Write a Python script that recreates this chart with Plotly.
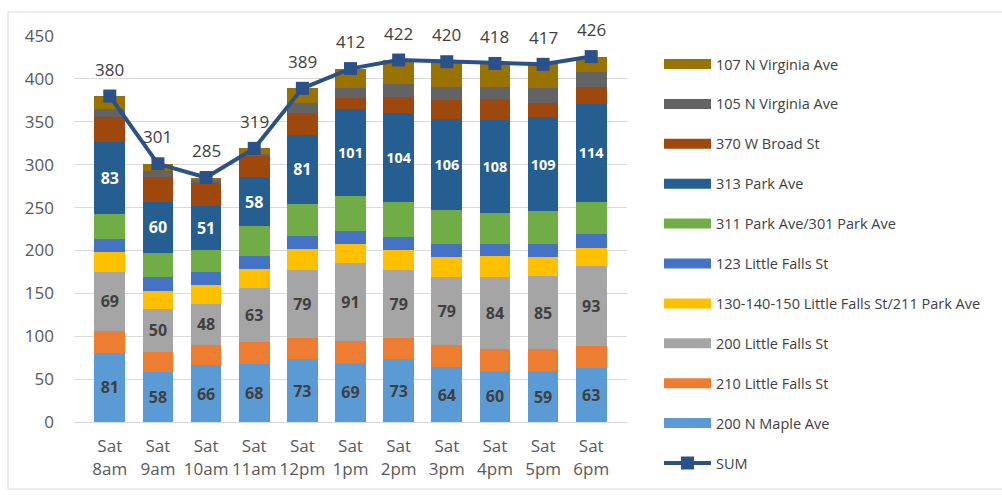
import plotly.graph_objects as go

# ── Data ─────────────────────────────────────────────────────────────────────

HOURS = ["Sat<br>8am", "Sat<br>9am", "Sat<br>10am", "Sat<br>11am", "Sat<br>12pm", "Sat<br>1pm",
         "Sat<br>2pm", "Sat<br>3pm", "Sat<br>4pm", "Sat<br>5pm", "Sat<br>6pm"]

N_MAPLE_200 = [81, 58, 66, 68, 73, 69, 73, 64, 60, 59, 63]
LITTLE_FALLS_210 = [25, 24, 24, 25, 25, 25, 25, 26, 25, 26, 26]
LITTLE_FALLS_200 = [69, 50, 48, 63, 79, 91, 79, 79, 84, 85, 93]
LITTLE_FALLS_130 = [23, 21, 22, 22, 25, 23, 24, 23, 24, 22, 21]
LITTLE_FALLS_123 = [15, 16, 15, 15, 15, 15, 15, 16, 15, 15, 16]
PARK_311 = [30, 28, 26, 35, 37, 41, 40, 39, 36, 39, 38]
PARK_313 = [83, 60, 51, 58, 81, 101, 104, 106, 108, 109, 114]
W_BROAD_370 = [29, 29, 27, 24, 25, 13, 19, 22, 24, 17, 19]
N_VIRGINIA_105 = [10, 7, 3, 3, 12, 11, 15, 16, 14, 17, 18]
N_VIRGINIA_107 = [15, 8, 3, 6, 17, 23, 28, 29, 28, 28, 18]
SUM = [380, 301, 285, 319, 389, 412, 422, 420, 418, 417, 426]

# (name, values, colour, label colour or None) — bottom of the stack first
SERIES = [
    ("200 N Maple Ave", N_MAPLE_200, "#5B9BD5", "#404040"),
    ("210 Little Falls St", LITTLE_FALLS_210, "#ED7D31", None),
    ("200 Little Falls St", LITTLE_FALLS_200, "#A5A5A5", "#404040"),
    ("130-140-150 Little Falls St/211 Park Ave", LITTLE_FALLS_130, "#FFC000", None),
    ("123 Little Falls St", LITTLE_FALLS_123, "#4472C4", None),
    ("311 Park Ave/301 Park Ave", PARK_311, "#70AD47", None),
    ("313 Park Ave", PARK_313, "#255E91", "white"),
    ("370 W Broad St", W_BROAD_370, "#9E480E", None),
    ("105 N Virginia Ave", N_VIRGINIA_105, "#636363", None),
    ("107 N Virginia Ave", N_VIRGINIA_107, "#997300", None),
]
SUM_COLOR = "#2A5189"

# ── Layout helpers (pixel → paper) ───────────────────────────────────────────

W, H = 1002, 495
L, R, T, B = 74, 375, 36, 73
PW, PH = W - L - R, H - T - B


def px(x):
    return (x - L) / PW


def py(y):
    return (H - B - y) / PH


FONT = "Open Sans, sans-serif"

fig = go.Figure()

for name, vals, color, label_color in SERIES:
    fig.add_trace(go.Bar(
        x=HOURS, y=vals, name=name,
        marker=dict(color=color, line=dict(width=0)),
        text=vals if label_color else None,
        textposition="inside" if label_color else "none",
        insidetextanchor="middle",
        textangle=0,
        textfont=dict(family=FONT, size=16, color=label_color or "white", weight="bold"),
        showlegend=False,
        hoverinfo="skip",
    ))

fig.add_trace(go.Scatter(
    x=HOURS, y=SUM, name="SUM",
    mode="lines+markers",
    line=dict(color=SUM_COLOR, width=4),
    marker=dict(symbol="square", size=13, color=SUM_COLOR),
    cliponaxis=False,
    showlegend=False,
))

# ── Legend drawn by hand to match the wide Excel swatches ───────────────────

shapes = []
annotations = []

# SUM value labels above the line points
for hour, total in zip(HOURS, SUM):
    annotations.append(dict(x=hour, y=total, yshift=27, text=str(total), showarrow=False,
                            font=dict(family=FONT, size=17, color="#404040")))

legend_rows = list(reversed(SERIES))
row_y = [64 + i * 39.9 for i in range(len(legend_rows) + 1)]
for (name, _, color, _), yc in zip(legend_rows, row_y):
    shapes.append(dict(type="rect", xref="paper", yref="paper",
                       x0=px(664), x1=px(711), y0=py(yc + 5), y1=py(yc - 5),
                       fillcolor=color, line=dict(width=0)))
    annotations.append(dict(xref="paper", yref="paper", x=px(714), y=py(yc),
                            text=name, showarrow=False, xanchor="left", yanchor="middle",
                            font=dict(family=FONT, size=14.5, color="#404040")))
yc = row_y[-1]
shapes.append(dict(type="line", xref="paper", yref="paper",
                   x0=px(664), x1=px(711), y0=py(yc), y1=py(yc),
                   line=dict(color=SUM_COLOR, width=4)))
shapes.append(dict(type="rect", xref="paper", yref="paper",
                   x0=px(681), x1=px(694), y0=py(yc + 6.5), y1=py(yc - 6.5),
                   fillcolor=SUM_COLOR, line=dict(width=0)))
annotations.append(dict(xref="paper", yref="paper", x=px(714), y=py(yc),
                        text="SUM", showarrow=False, xanchor="left", yanchor="middle",
                        font=dict(family=FONT, size=14.5, color="#404040")))

# chart-area border (left, top, bottom visible)
for x0, y0, x1, y1 in ((8, 12, 8, 489), (8, 12, 1002, 12), (8, 489, 1002, 489)):
    shapes.append(dict(type="line", xref="paper", yref="paper",
                       x0=px(x0), x1=px(x1), y0=py(y0), y1=py(y1),
                       line=dict(color="#D9D9D9", width=1)))

fig.update_layout(
    width=W, height=H,
    margin=dict(l=L, r=R, t=T, b=B),
    barmode="stack",
    bargap=0.36,
    plot_bgcolor="white",
    paper_bgcolor="white",
    font=dict(family=FONT, color="#595959"),
    shapes=shapes,
    annotations=annotations,
    xaxis=dict(
        showgrid=False, showline=True, linecolor="#D9D9D9", linewidth=1,
        tickfont=dict(family=FONT, size=17, color="#595959"),
        ticks="", ticklabelstandoff=9, fixedrange=True,
    ),
    yaxis=dict(
        range=[0, 450], dtick=50, showgrid=True, gridcolor="#D9D9D9", gridwidth=1,
        zeroline=False, showline=False,
        tickfont=dict(family=FONT, size=17, color="#595959"),
        ticklabelstandoff=19,
    ),
)

# page body has an 8px default margin; drop it so the figure sits at 0,0
fig.write_html("out.html", config={"displayModeBar": False},
               post_script="document.body.style.margin='0';")
